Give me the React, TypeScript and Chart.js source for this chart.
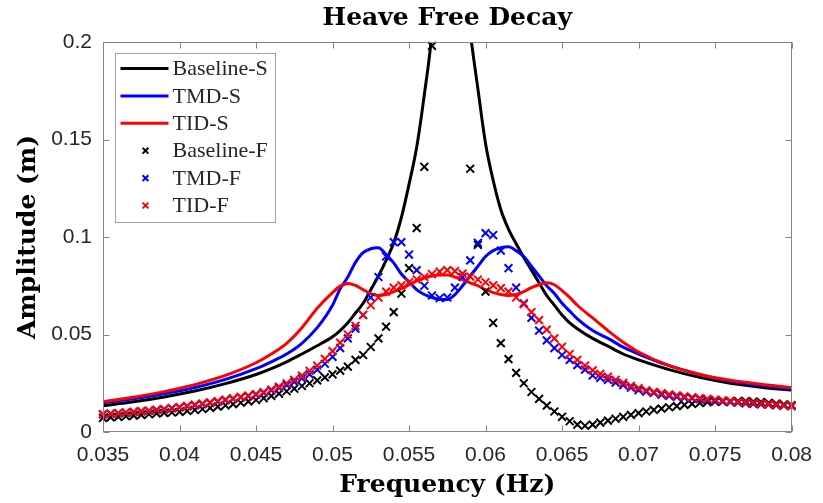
import React, { useEffect, useRef } from 'react';
import { Chart, registerables } from 'chart.js';

Chart.register(...registerables);

// ---------- data ----------
const TITLE = 'Heave Free Decay';
const X_LABEL = 'Frequency (Hz)';
const Y_LABEL = 'Amplitude (m)';

const SERIES_LABELS = ['Baseline-S', 'TMD-S', 'TID-S', 'Baseline-F', 'TMD-F', 'TID-F'];
const SERIES_COLORS = ['#000000', '#0000ff', '#ff0000', '#000000', '#0000ff', '#ff0000'];

const X_TICKS = [0.035, 0.04, 0.045, 0.05, 0.055, 0.06, 0.065, 0.07, 0.075, 0.08];
const X_TICK_LABELS = ['0.035', '0.04', '0.045', '0.05', '0.055', '0.06', '0.065', '0.07', '0.075', '0.08'];
const Y_TICKS = [0, 0.05, 0.1, 0.15, 0.2];
const Y_TICK_LABELS = ['0', '0.05', '0.1', '0.15', '0.2'];

// simulated (continuous) curves
const FREQ_S = [
  0.035, 0.037, 0.039, 0.041, 0.043, 0.045, 0.046, 0.047, 0.048, 0.049, 0.050,
  0.0505, 0.051, 0.0515, 0.052, 0.0525, 0.053, 0.0535, 0.054, 0.0545, 0.055,
  0.0555, 0.056, 0.0565, 0.057, 0.0575, 0.058, 0.0585, 0.059, 0.0595, 0.060,
  0.0605, 0.061, 0.0615, 0.062, 0.0625, 0.063, 0.0635, 0.064, 0.0645, 0.065,
  0.0655, 0.066, 0.067, 0.068, 0.069, 0.070, 0.072, 0.074, 0.076, 0.078, 0.080,
];
const BASELINE_S = [
  0.0135, 0.0155, 0.018, 0.021, 0.0248, 0.0295, 0.0325, 0.036, 0.040, 0.0442, 0.0488,
  0.052, 0.056, 0.061, 0.066, 0.073, 0.080, 0.088, 0.097, 0.110, 0.127,
  0.146, 0.173, 0.205, 0.26, 0.30, 0.29, 0.24, 0.205, 0.176, 0.148,
  0.129, 0.114, 0.104, 0.0965, 0.0895, 0.083, 0.0765, 0.070, 0.065, 0.060,
  0.056, 0.053, 0.048, 0.044, 0.040, 0.037, 0.032, 0.028, 0.025, 0.023, 0.0215,
];
const TMD_S = [
  0.015, 0.017, 0.0196, 0.0228, 0.027, 0.0325, 0.036, 0.040, 0.0455, 0.0535, 0.065,
  0.0735, 0.0795, 0.087, 0.092, 0.094, 0.0945, 0.091, 0.0867, 0.081, 0.077,
  0.073, 0.0705, 0.069, 0.068, 0.068, 0.0705, 0.075, 0.080, 0.085, 0.090,
  0.093, 0.0945, 0.095, 0.093, 0.090, 0.085, 0.080, 0.075, 0.071, 0.066,
  0.062, 0.058, 0.052, 0.048, 0.0435, 0.040, 0.034, 0.0295, 0.026, 0.024, 0.022,
];
const TID_S = [
  0.0155, 0.0178, 0.0207, 0.0243, 0.029, 0.0355, 0.040, 0.0455, 0.0535, 0.0635, 0.0715,
  0.0748, 0.0762, 0.0752, 0.073, 0.071, 0.070, 0.0705, 0.072, 0.0735, 0.0755,
  0.0775, 0.079, 0.080, 0.0805, 0.0805, 0.0795, 0.078, 0.0765, 0.075, 0.073,
  0.0715, 0.0705, 0.070, 0.0705, 0.072, 0.074, 0.0755, 0.0765, 0.0755, 0.0725,
  0.069, 0.065, 0.0585, 0.052, 0.046, 0.041, 0.034, 0.0295, 0.0265, 0.0245, 0.0228,
];

// measured (FFT) points
const FREQ_F = [
  0.035, 0.0355, 0.036, 0.0365, 0.037, 0.0375, 0.038, 0.0385, 0.039, 0.0395,
  0.040, 0.0405, 0.041, 0.0415, 0.042, 0.0425, 0.043, 0.0435, 0.044, 0.0445,
  0.045, 0.0455, 0.046, 0.0465, 0.047, 0.0475, 0.048, 0.0485, 0.049, 0.0495,
  0.050, 0.0505, 0.051, 0.0515, 0.052, 0.0525, 0.053, 0.0535, 0.054, 0.0545,
  0.055, 0.0555, 0.056, 0.0565, 0.057, 0.0575, 0.058, 0.0585, 0.059, 0.0595,
  0.060, 0.0605, 0.061, 0.0615, 0.062, 0.0625, 0.063, 0.0635, 0.064, 0.0645,
  0.065, 0.0655, 0.066, 0.0665, 0.067, 0.0675, 0.068, 0.0685, 0.069, 0.0695,
  0.070, 0.0705, 0.071, 0.0715, 0.072, 0.0725, 0.073, 0.0735, 0.074, 0.0745,
  0.075, 0.0755, 0.076, 0.0765, 0.077, 0.0775, 0.078, 0.0785, 0.079, 0.0795,
  0.080,
];
const BASELINE_F = [
  0.0072, 0.0075, 0.0078, 0.0081, 0.0084, 0.0088, 0.0091, 0.0095, 0.0098, 0.0100,
  0.0103, 0.0108, 0.0113, 0.0118, 0.0124, 0.0130, 0.0137, 0.0143, 0.0150, 0.0157,
  0.0164, 0.0174, 0.0185, 0.0197, 0.0209, 0.0222, 0.0236, 0.0250, 0.0265, 0.0280,
  0.0296, 0.0315, 0.0335, 0.0370, 0.0395, 0.0436, 0.0480, 0.0540, 0.0615, 0.0710,
  0.0840, 0.1046, 0.1360, 0.1980, 0.300, 0.420, 0.400, 0.260, 0.1350, 0.0960,
  0.0720, 0.0560, 0.0456, 0.0374, 0.0303, 0.0250, 0.0205, 0.0170, 0.0135, 0.0105,
  0.0078, 0.0055, 0.0038, 0.0032, 0.0038, 0.0048, 0.0058, 0.0068, 0.0078, 0.0088,
  0.0097, 0.0105, 0.0113, 0.0120, 0.0127, 0.0133, 0.0139, 0.0144, 0.0149, 0.0153,
  0.0156, 0.0158, 0.0159, 0.0159, 0.0158, 0.0156, 0.0153, 0.0150, 0.0146, 0.0142,
  0.0138,
];
const TMD_F = [
  0.0090, 0.0093, 0.0096, 0.0099, 0.0102, 0.0105, 0.0108, 0.0112, 0.0116, 0.0121,
  0.0126, 0.0131, 0.0137, 0.0143, 0.0149, 0.0156, 0.0163, 0.0170, 0.0177, 0.0184,
  0.0192, 0.0201, 0.0213, 0.0226, 0.0240, 0.0257, 0.0275, 0.0296, 0.0320, 0.0350,
  0.0385, 0.0430, 0.0480, 0.0530, 0.0600, 0.0690, 0.0795, 0.0900, 0.0974, 0.0974,
  0.0910, 0.0830, 0.0750, 0.0700, 0.0687, 0.0690, 0.0740, 0.0795, 0.0880, 0.0970,
  0.1020, 0.1010, 0.0930, 0.0840, 0.0740, 0.0660, 0.0585, 0.0520, 0.0470, 0.0430,
  0.0395, 0.0370, 0.0343, 0.0320, 0.0290, 0.0278, 0.0267, 0.0253, 0.0240, 0.0227,
  0.0215, 0.0207, 0.0200, 0.0192, 0.0185, 0.0180, 0.0176, 0.0172, 0.0168, 0.0163,
  0.0160, 0.0156, 0.0153, 0.0150, 0.0147, 0.0144, 0.0142, 0.0140, 0.0137, 0.0135,
  0.0133,
];
const TID_F = [
  0.0092, 0.0094, 0.0097, 0.0100, 0.0103, 0.0107, 0.0110, 0.0114, 0.0118, 0.0123,
  0.0128, 0.0134, 0.0140, 0.0146, 0.0152, 0.0159, 0.0166, 0.0173, 0.0180, 0.0187,
  0.0195, 0.0205, 0.0218, 0.0233, 0.0250, 0.0268, 0.0289, 0.0313, 0.0340, 0.0375,
  0.0415, 0.0458, 0.0500, 0.0545, 0.0600, 0.0650, 0.0690, 0.0720, 0.0740, 0.0752,
  0.0768, 0.0782, 0.0795, 0.0810, 0.0822, 0.0830, 0.0825, 0.0812, 0.0797, 0.0782,
  0.0768, 0.0752, 0.0738, 0.0720, 0.0690, 0.0655, 0.0615, 0.0574, 0.0525, 0.0480,
  0.0437, 0.0400, 0.0370, 0.0340, 0.0316, 0.0298, 0.0284, 0.0268, 0.0252, 0.0237,
  0.0225, 0.0214, 0.0206, 0.0199, 0.0193, 0.0188, 0.0183, 0.0178, 0.0174, 0.0170,
  0.0166, 0.0162, 0.0158, 0.0155, 0.0152, 0.0149, 0.0146, 0.0143, 0.0140, 0.0137,
  0.0134,
];

// ---------- styling ----------
const AXIS_COLOR = '#858585';
const TICK_TEXT_COLOR = '#262626';
const LABEL_FONT = '"DejaVu Serif", serif';
const TICK_FONT = '"Liberation Sans", Arial, sans-serif';
const LEGEND_FONT = '22px "Liberation Serif", serif';

const toPoints = (xs: number[], ys: number[]) => xs.map((x, i) => ({ x, y: ys[i] }));

const matlabPlugin = {
  id: 'matlabBoxLegend',
  afterDatasetsDraw(chart: any) {
    const { ctx, chartArea: a, scales } = chart;
    ctx.save();
    const L = Math.round(a.left) + 0.5;
    const R = Math.round(a.right) - 0.5;
    const T = Math.round(a.top) + 0.5;
    const B = Math.round(a.bottom) - 0.5;
    ctx.strokeStyle = AXIS_COLOR;
    ctx.lineWidth = 1;
    ctx.strokeRect(L, T, R - L, B - T);
    const tl = 6;
    ctx.beginPath();
    X_TICKS.forEach((v) => {
      const x = Math.round(scales.x.getPixelForValue(v)) + 0.5;
      ctx.moveTo(x, B); ctx.lineTo(x, B - tl);
      ctx.moveTo(x, T); ctx.lineTo(x, T + tl);
    });
    Y_TICKS.forEach((v) => {
      const y = Math.round(scales.y.getPixelForValue(v)) + 0.5;
      ctx.moveTo(L, y); ctx.lineTo(L + tl, y);
      ctx.moveTo(R, y); ctx.lineTo(R - tl, y);
    });
    ctx.stroke();

    // legend box
    const datasets = chart.data.datasets;
    ctx.font = LEGEND_FONT;
    let maxW = 0;
    datasets.forEach((d: any) => { maxW = Math.max(maxW, ctx.measureText(d.label).width); });
    const bx = Math.round(a.left) + 12.5;
    const by = Math.round(a.top) + 11.5;
    const rowH = 27.4;
    const textX = bx + 57;
    const bw = Math.round(textX - bx + maxW + 8);
    const bh = Math.round(rowH * datasets.length + 5);
    ctx.fillStyle = '#ffffff';
    ctx.fillRect(bx, by, bw, bh);
    ctx.strokeStyle = '#a0a0a0';
    ctx.strokeRect(bx, by, bw, bh);
    datasets.forEach((d: any, i: number) => {
      const cy = by + 15 + i * rowH;
      ctx.strokeStyle = d.borderColor;
      if (d.showLine) {
        ctx.lineWidth = d.borderWidth;
        ctx.beginPath();
        ctx.moveTo(bx + 5, cy);
        ctx.lineTo(bx + 53, cy);
        ctx.stroke();
      } else {
        const r = d.pointRadius * Math.SQRT1_2 * 0.75;
        const cx = bx + 30;
        ctx.lineWidth = d.pointBorderWidth;
        ctx.beginPath();
        ctx.moveTo(cx - r, cy - r); ctx.lineTo(cx + r, cy + r);
        ctx.moveTo(cx - r, cy + r); ctx.lineTo(cx + r, cy - r);
        ctx.stroke();
      }
      ctx.fillStyle = '#262626';
      ctx.textAlign = 'left';
      ctx.textBaseline = 'middle';
      ctx.fillText(d.label, textX, cy + 1);
    });
    ctx.restore();
  },
};

export default function App() {
  const canvasRef = useRef<HTMLCanvasElement | null>(null);

  useEffect(() => {
    const canvas = canvasRef.current;
    if (!canvas) return;
    const lineSeries = [BASELINE_S, TMD_S, TID_S];
    const markSeries = [BASELINE_F, TMD_F, TID_F];
    const datasets: any[] = [];
    lineSeries.forEach((ys, i) => {
      datasets.push({
        label: SERIES_LABELS[i],
        data: toPoints(FREQ_S, ys),
        showLine: true,
        borderColor: SERIES_COLORS[i],
        backgroundColor: SERIES_COLORS[i],
        borderWidth: 3,
        pointRadius: 0,
        cubicInterpolationMode: 'monotone',
        order: 6 - i,
      });
    });
    markSeries.forEach((ys, j) => {
      const i = j + 3;
      datasets.push({
        label: SERIES_LABELS[i],
        data: toPoints(FREQ_F, ys),
        showLine: false,
        borderColor: SERIES_COLORS[i],
        backgroundColor: SERIES_COLORS[i],
        pointStyle: 'crossRot',
        pointRadius: 5.5,
        pointBorderWidth: 2,
        pointBorderColor: SERIES_COLORS[i],
        clip: { left: 6, right: 6, top: 3, bottom: 6 },
        order: 6 - i,
      });
    });

    const labelFont = { family: LABEL_FONT, size: 25, weight: 'bold', lineHeight: 1.2 };
    const chart = new Chart(canvas, {
      type: 'scatter',
      data: { datasets },
      plugins: [matlabPlugin],
      options: {
        animation: false,
        responsive: false,
        devicePixelRatio: 1,
        layout: { padding: { left: 0, right: 24, top: 0, bottom: 0 } },
        plugins: {
          legend: { display: false },
          tooltip: { enabled: false },
          title: {
            display: true,
            fullSize: false,
            text: TITLE,
            color: '#000000',
            font: labelFont,
            padding: { top: 3, bottom: 9 },
          },
        },
        scales: {
          x: {
            type: 'linear',
            min: 0.035,
            max: 0.08,
            afterBuildTicks: (scale: any) => { scale.ticks = X_TICKS.map((v) => ({ value: v })); },
            afterFit: (scale: any) => { scale.height = 71; },
            grid: { display: false, drawTicks: false },
            border: { display: false },
            ticks: {
              autoSkip: false,
              maxRotation: 0,
              padding: 11,
              color: TICK_TEXT_COLOR,
              font: { family: TICK_FONT, size: 21 },
              callback: (_v: any, idx: number) => X_TICK_LABELS[idx],
            },
            title: {
              display: true,
              text: X_LABEL,
              color: '#000000',
              font: labelFont,
              padding: { top: 0, bottom: 3 },
            },
          },
          y: {
            type: 'linear',
            min: 0,
            max: 0.2,
            afterBuildTicks: (scale: any) => { scale.ticks = Y_TICKS.map((v) => ({ value: v })); },
            afterFit: (scale: any) => { scale.width = 103; },
            grid: { display: false, drawTicks: false },
            border: { display: false },
            ticks: {
              autoSkip: false,
              padding: 11,
              color: TICK_TEXT_COLOR,
              font: { family: TICK_FONT, size: 21 },
              callback: (_v: any, idx: number) => Y_TICK_LABELS[idx],
            },
            title: {
              display: true,
              text: Y_LABEL,
              color: '#000000',
              font: labelFont,
              padding: { top: 13, bottom: 0 },
            },
          },
        },
      } as any,
    });
    return () => chart.destroy();
  }, []);

  return (
    <div style={{ position: 'absolute', left: 0, top: 0, width: 823, height: 503, background: '#ffffff' }}>
      <canvas ref={canvasRef} width={823} height={503} style={{ display: 'block' }} />
    </div>
  );
}
